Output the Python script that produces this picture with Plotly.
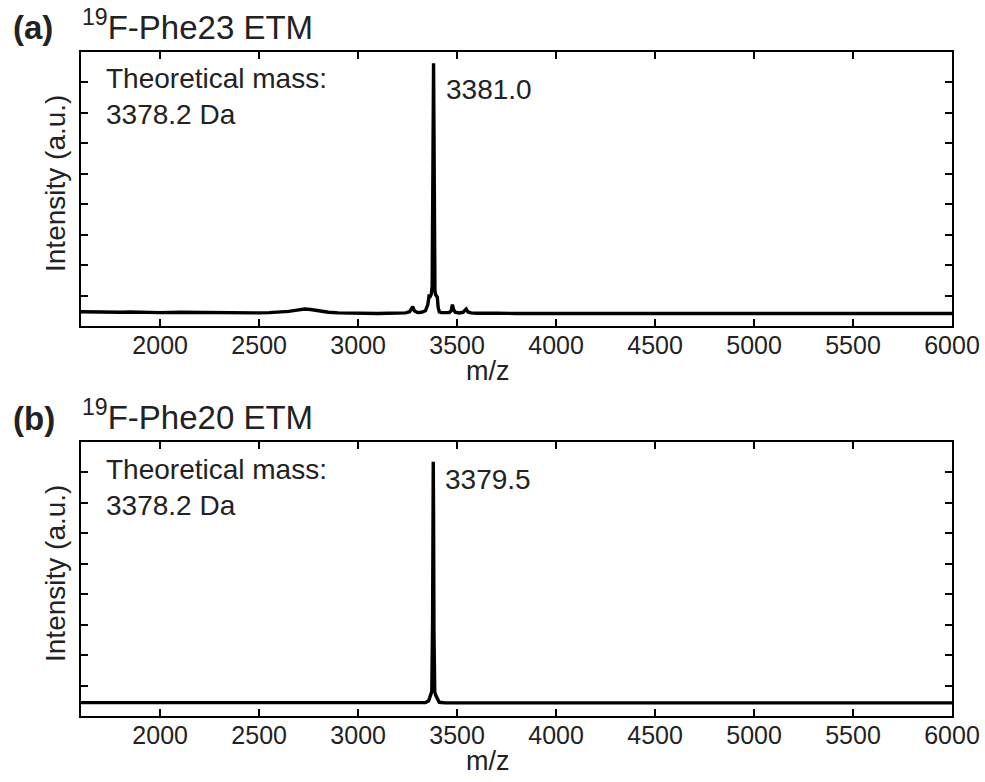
import plotly.graph_objects as go

# ---------------- data ----------------
mz_a = [1600, 1650, 1700, 1750, 1800, 1850, 1900, 1950, 2000, 2100, 2200, 2300, 2400,
        2500, 2550, 2600, 2650, 2700, 2730, 2760, 2800, 2850, 2900, 2950, 3000, 3050,
        3100, 3150, 3200, 3240, 3260, 3270, 3276, 3284, 3300, 3320, 3340, 3352, 3358,
        3364, 3370, 3374, 3377, 3379, 3381, 3383, 3385, 3388, 3392, 3396, 3400, 3404,
        3410, 3420, 3440, 3460, 3470, 3476, 3482, 3490, 3510, 3530, 3540, 3546, 3555,
        3570, 3600, 3650, 3700, 3800, 3900, 4000, 4100, 4200, 4300, 4400, 4500, 4600,
        4700, 4800, 4900, 5000, 5100, 5200, 5300, 5400, 5500, 5600, 5700, 5800, 5900, 6000]
int_a = [0.47, 0.46, 0.47, 0.46, 0.45, 0.46, 0.45, 0.45, 0.44, 0.45, 0.44, 0.43, 0.43,
         0.43, 0.44, 0.45, 0.48, 0.53, 0.56, 0.54, 0.49, 0.45, 0.43, 0.42, 0.41, 0.42,
         0.41, 0.42, 0.42, 0.43, 0.47, 0.60, 0.64, 0.50, 0.44, 0.45, 0.50, 0.70, 0.98,
         0.97, 1.05, 1.30, 3.60, 7.00, 8.63, 6.50, 3.10, 1.15, 1.02, 1.00, 0.95, 0.62,
         0.46, 0.44, 0.43, 0.44, 0.50, 0.70, 0.55, 0.45, 0.43, 0.45, 0.52, 0.56, 0.46,
         0.43, 0.42, 0.41, 0.42, 0.41, 0.42, 0.41, 0.41, 0.42, 0.41, 0.41, 0.42, 0.41,
         0.41, 0.42, 0.41, 0.41, 0.42, 0.41, 0.41, 0.41, 0.42, 0.41, 0.41, 0.41, 0.41, 0.41]

mz_b = [1600, 1700, 1800, 1900, 2000, 2200, 2400, 2600, 2800, 3000, 3200, 3300, 3340,
        3356, 3362, 3366, 3372, 3376, 3378, 3379.5, 3381, 3383, 3387, 3392, 3396, 3402,
        3410, 3440, 3500, 3600, 3800, 4000, 4200, 4400, 4600, 4800, 5000, 5200, 5400,
        5600, 5800, 6000]
int_b = [0.44, 0.44, 0.43, 0.44, 0.43, 0.43, 0.43, 0.43, 0.43, 0.43, 0.43, 0.43, 0.44,
         0.50, 0.62, 0.65, 0.80, 3.00, 6.80, 8.35, 6.60, 2.80, 0.80, 0.68, 0.62, 0.50,
         0.45, 0.43, 0.43, 0.43, 0.43, 0.43, 0.43, 0.43, 0.43, 0.43, 0.43, 0.43, 0.43,
         0.43, 0.43, 0.43]

x_ticks = [2000, 2500, 3000, 3500, 4000, 4500, 5000, 5500, 6000]
x_tick_labels = ["2000", "2500", "3000", "3500", "4000", "4500", "5000", "5500", "6000"]
y_ticks = [1, 2, 3, 4, 5, 6, 7, 8]

panel_letters = ["(a)", "(b)"]
panel_titles = ["<sup>19</sup>F-Phe23 ETM", "<sup>19</sup>F-Phe20 ETM"]
theo_text = "Theoretical mass:<br>3378.2 Da"
peak_mz = [3381.0, 3379.5]
peak_labels = ["3381.0", "3379.5"]

# ---------------- layout helpers ----------------
W, H = 985, 782
FONT = "Liberation Sans, Arial, Helvetica, sans-serif"


def px(x):
    return x / W


def py(y):
    return 1 - y / H


fig = go.Figure()
fig.add_trace(go.Scatter(x=mz_a, y=int_a, mode="lines",
                         line=dict(color="black", width=3.4), xaxis="x", yaxis="y",
                         showlegend=False, hoverinfo="skip"))
fig.add_trace(go.Scatter(x=mz_b, y=int_b, mode="lines",
                         line=dict(color="black", width=3.4), xaxis="x2", yaxis="y2",
                         showlegend=False, hoverinfo="skip"))

xdom = [px(81), px(952)]
ydom_a = [py(326), py(52)]
ydom_b = [py(716), py(442)]

xaxis_common = dict(range=[1600, 6000], tickvals=x_ticks, ticktext=x_tick_labels,
                    ticks="inside", ticklen=7, tickwidth=2, tickcolor="black",
                    showline=True, linewidth=2, linecolor="black", mirror="ticks",
                    showgrid=False, zeroline=False, automargin=False,
                    ticklabelstandoff=-4,
                    tickfont=dict(family=FONT, size=25, color="#222"))
yaxis_common = dict(range=[0, 9], tickvals=y_ticks, showticklabels=False,
                    ticks="inside", ticklen=7, tickwidth=2, tickcolor="black",
                    showline=True, linewidth=2, linecolor="black", mirror="ticks",
                    showgrid=False, zeroline=False, automargin=False)

fig.update_layout(
    width=W, height=H, autosize=False,
    margin=dict(l=0, r=0, t=0, b=0, pad=0, autoexpand=False),
    paper_bgcolor="white", plot_bgcolor="white",
    xaxis=dict(domain=xdom, anchor="y", **xaxis_common),
    yaxis=dict(domain=ydom_a, anchor="x", **yaxis_common),
    xaxis2=dict(domain=xdom, anchor="y2", **xaxis_common),
    yaxis2=dict(domain=ydom_b, anchor="x2", **yaxis_common),
)

annotations = []
for i in range(2):
    off = 390 * i
    xr = "x" if i == 0 else "x2"
    # panel letter
    annotations.append(dict(text="<b>" + panel_letters[i] + "</b>", x=px(11), y=py(28 + off),
                            xref="paper", yref="paper", xanchor="left", yanchor="middle",
                            showarrow=False, font=dict(family=FONT, size=33, color="#222")))
    # panel title
    annotations.append(dict(text=panel_titles[i], x=px(80), y=py(25 + off),
                            xref="paper", yref="paper", xanchor="left", yanchor="middle",
                            showarrow=False, font=dict(family=FONT, size=33, color="#222")))
    # theoretical mass
    annotations.append(dict(text=theo_text, x=px(104), y=py(97 + off),
                            xref="paper", yref="paper", xanchor="left", yanchor="middle",
                            align="left", showarrow=False,
                            font=dict(family=FONT, size=28, color="#222")))
    # peak label
    annotations.append(dict(text=peak_labels[i], x=peak_mz[i], y=py(89 + off),
                            xref=xr, yref="paper", xanchor="left", yanchor="middle",
                            xshift=10, showarrow=False,
                            font=dict(family=FONT, size=28, color="#222")))
    # y axis title
    annotations.append(dict(text="Intensity (a.u.)", x=px(55), y=py(184 + off),
                            xref="paper", yref="paper", xanchor="center", yanchor="middle",
                            textangle=-90, showarrow=False,
                            font=dict(family=FONT, size=28, color="#222")))
    # x axis title
    annotations.append(dict(text="m/z", x=px(488), y=py(371 + off),
                            xref="paper", yref="paper", xanchor="center", yanchor="middle",
                            showarrow=False, font=dict(family=FONT, size=27, color="#222")))

fig.update_layout(annotations=annotations)
fig.write_html(
    "out.html",
    config={"displayModeBar": False, "responsive": False},
    default_width="985px",
    default_height="782px",
    post_script=(
        "document.body.style.margin='0';"
        "document.body.style.overflow='hidden';"
        "var gd=document.getElementById('{plot_id}');"
        "Plotly.relayout(gd,{width:985,height:782});"
    ),
)
